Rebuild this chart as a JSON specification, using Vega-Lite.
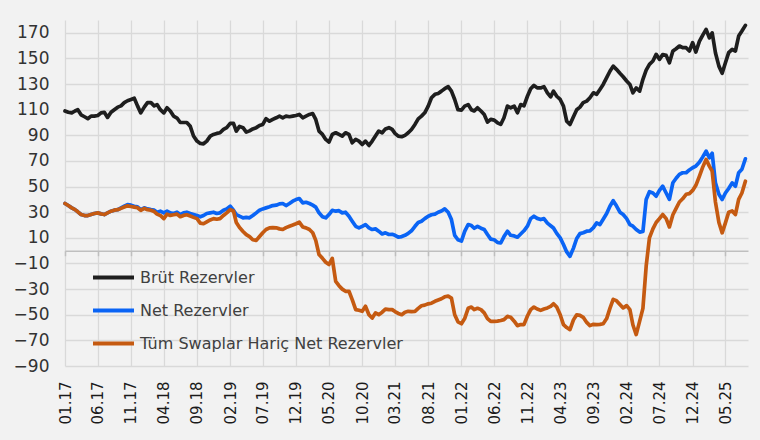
{
"$schema": "https://vega.github.io/schema/vega-lite/v6.json",
"width": 683, "height": 346,
"autosize": {"type": "none"},
"padding": {"left": 65, "top": 20, "right": 12, "bottom": 74},
"background": "#f2f2f2",
"config": {"view": {"stroke": null}, "font": "DejaVu Sans"},
"data": {"values": [
{"d":"2017-01-01","b":109,"n":36.8,"t":36.8},
{"d":"2017-01-16","b":108,"n":35.2,"t":35.2},
{"d":"2017-02-01","b":107.5,"n":33.4,"t":33.4},
{"d":"2017-02-16","b":109,"n":32,"t":32},
{"d":"2017-03-01","b":110,"n":30.3,"t":30.3},
{"d":"2017-03-16","b":106,"n":28.2,"t":28.2},
{"d":"2017-04-01","b":104.5,"n":27.4,"t":27.4},
{"d":"2017-04-16","b":103,"n":27.4,"t":27.4},
{"d":"2017-05-01","b":105,"n":28.2,"t":28.2},
{"d":"2017-05-16","b":105,"n":29,"t":29},
{"d":"2017-06-01","b":105.5,"n":29.5,"t":29.5},
{"d":"2017-06-16","b":107.5,"n":28.7,"t":28.7},
{"d":"2017-07-01","b":108,"n":28.2,"t":28.2},
{"d":"2017-07-16","b":104,"n":29.5,"t":29.5},
{"d":"2017-08-01","b":108,"n":30.8,"t":30.8},
{"d":"2017-08-16","b":110,"n":31.6,"t":31.6},
{"d":"2017-09-01","b":112,"n":32,"t":32},
{"d":"2017-09-16","b":113,"n":33.4,"t":33},
{"d":"2017-10-01","b":115.5,"n":34.7,"t":34},
{"d":"2017-10-16","b":117,"n":36,"t":35},
{"d":"2017-11-01","b":118,"n":35.5,"t":34.5},
{"d":"2017-11-16","b":119,"n":34.7,"t":34},
{"d":"2017-12-01","b":113,"n":34.2,"t":33.5},
{"d":"2017-12-16","b":107.5,"n":32,"t":31.5},
{"d":"2018-01-01","b":112,"n":33.4,"t":33},
{"d":"2018-01-16","b":115.5,"n":32.6,"t":32},
{"d":"2018-02-01","b":115.5,"n":32,"t":31.5},
{"d":"2018-02-16","b":113,"n":31.6,"t":30.5},
{"d":"2018-03-01","b":114,"n":30,"t":28.5},
{"d":"2018-03-16","b":110,"n":30.8,"t":27.5},
{"d":"2018-04-01","b":107.5,"n":29.5,"t":25},
{"d":"2018-04-16","b":111.5,"n":30.8,"t":28.5},
{"d":"2018-05-01","b":109,"n":29.5,"t":27.5},
{"d":"2018-05-16","b":105,"n":29,"t":28},
{"d":"2018-06-01","b":103.5,"n":30,"t":28.5},
{"d":"2018-06-16","b":100,"n":28.2,"t":26.5},
{"d":"2018-07-01","b":100,"n":29.5,"t":27.5},
{"d":"2018-07-16","b":100,"n":30,"t":28},
{"d":"2018-08-01","b":97,"n":29,"t":27},
{"d":"2018-08-16","b":89.5,"n":28.2,"t":26},
{"d":"2018-09-01","b":85.5,"n":27.4,"t":25},
{"d":"2018-09-16","b":83.7,"n":26.4,"t":21.5},
{"d":"2018-10-01","b":83.4,"n":27.4,"t":21},
{"d":"2018-10-16","b":85.5,"n":29,"t":22.5},
{"d":"2018-11-01","b":89.4,"n":29.5,"t":24},
{"d":"2018-11-16","b":90.7,"n":30,"t":25},
{"d":"2018-12-01","b":91.5,"n":29,"t":24.5},
{"d":"2018-12-16","b":92,"n":29.5,"t":25},
{"d":"2019-01-01","b":94.6,"n":31.5,"t":27.5},
{"d":"2019-01-16","b":96,"n":32.6,"t":29.5},
{"d":"2019-02-01","b":99.3,"n":34.7,"t":32},
{"d":"2019-02-16","b":99.3,"n":31.6,"t":31},
{"d":"2019-03-01","b":93.3,"n":28.2,"t":22},
{"d":"2019-03-16","b":97,"n":26.9,"t":18},
{"d":"2019-04-01","b":96,"n":25.6,"t":15},
{"d":"2019-04-16","b":92.5,"n":26,"t":12.5},
{"d":"2019-05-01","b":93.5,"n":25.6,"t":11},
{"d":"2019-05-16","b":95,"n":27.4,"t":8.5},
{"d":"2019-06-01","b":96,"n":29.5,"t":8},
{"d":"2019-06-16","b":97.7,"n":31.6,"t":11},
{"d":"2019-07-01","b":98.5,"n":32.6,"t":14},
{"d":"2019-07-16","b":103,"n":33.4,"t":16.5},
{"d":"2019-08-01","b":101,"n":34.2,"t":17.8},
{"d":"2019-08-16","b":102.4,"n":35.2,"t":18},
{"d":"2019-09-01","b":103.7,"n":35.5,"t":17.8},
{"d":"2019-09-16","b":105,"n":36.5,"t":17},
{"d":"2019-10-01","b":103.7,"n":36.8,"t":16.5},
{"d":"2019-10-16","b":105,"n":35.2,"t":18},
{"d":"2019-11-01","b":104.5,"n":36.8,"t":19.1},
{"d":"2019-11-16","b":105,"n":38.6,"t":20},
{"d":"2019-12-01","b":105.5,"n":39.9,"t":21},
{"d":"2019-12-16","b":106.3,"n":40.7,"t":22.2},
{"d":"2020-01-01","b":103.7,"n":37.3,"t":18.5},
{"d":"2020-01-16","b":105,"n":37.8,"t":17.8},
{"d":"2020-02-01","b":106.3,"n":36.8,"t":16.5},
{"d":"2020-02-16","b":107,"n":35.5,"t":14},
{"d":"2020-03-01","b":102.4,"n":34,"t":8},
{"d":"2020-03-16","b":93.3,"n":29.5,"t":-3},
{"d":"2020-04-01","b":90.7,"n":26.5,"t":-6},
{"d":"2020-04-16","b":86.8,"n":25.6,"t":-9},
{"d":"2020-05-01","b":84.7,"n":28.2,"t":-10.8},
{"d":"2020-05-16","b":90.7,"n":31.5,"t":-6},
{"d":"2020-06-01","b":92,"n":30.8,"t":-24},
{"d":"2020-06-16","b":90.7,"n":31.2,"t":-27.3},
{"d":"2020-07-01","b":89.4,"n":29.5,"t":-30},
{"d":"2020-07-16","b":92,"n":30,"t":-31.7},
{"d":"2020-08-01","b":90.7,"n":26.9,"t":-31.7},
{"d":"2020-08-16","b":84.2,"n":23,"t":-38.2},
{"d":"2020-09-01","b":86.8,"n":19,"t":-46},
{"d":"2020-09-16","b":85.5,"n":17.8,"t":-46.5},
{"d":"2020-10-01","b":82.9,"n":19,"t":-47.3},
{"d":"2020-10-16","b":85.5,"n":20.4,"t":-43.4},
{"d":"2020-11-01","b":82.1,"n":17.8,"t":-50},
{"d":"2020-11-16","b":85.5,"n":16.5,"t":-52.6},
{"d":"2020-12-01","b":89.4,"n":17,"t":-48.6},
{"d":"2020-12-16","b":93.3,"n":15.2,"t":-50},
{"d":"2021-01-01","b":92,"n":13,"t":-48},
{"d":"2021-01-16","b":95,"n":13.9,"t":-45.6},
{"d":"2021-02-01","b":96,"n":12.6,"t":-46},
{"d":"2021-02-16","b":94.6,"n":12.8,"t":-46},
{"d":"2021-03-01","b":91.5,"n":12,"t":-47.5},
{"d":"2021-03-16","b":89.4,"n":10.5,"t":-49},
{"d":"2021-04-01","b":88.9,"n":11,"t":-50},
{"d":"2021-04-16","b":90,"n":12,"t":-48},
{"d":"2021-05-01","b":92,"n":13.5,"t":-47.3},
{"d":"2021-05-16","b":94.6,"n":15.5,"t":-47.5},
{"d":"2021-06-01","b":98.5,"n":19,"t":-47.3},
{"d":"2021-06-16","b":102.9,"n":22,"t":-45},
{"d":"2021-07-01","b":105,"n":23,"t":-43},
{"d":"2021-07-16","b":107.6,"n":25,"t":-42.5},
{"d":"2021-08-01","b":112.8,"n":26.9,"t":-41.5},
{"d":"2021-08-16","b":119.3,"n":28,"t":-41},
{"d":"2021-09-01","b":122,"n":28.5,"t":-39.5},
{"d":"2021-09-16","b":122.7,"n":30,"t":-38.5},
{"d":"2021-10-01","b":124.5,"n":31,"t":-37.5},
{"d":"2021-10-16","b":126.4,"n":32.6,"t":-36},
{"d":"2021-11-01","b":128,"n":30,"t":-35.5},
{"d":"2021-11-16","b":124.5,"n":24.3,"t":-37},
{"d":"2021-12-01","b":118,"n":12,"t":-50},
{"d":"2021-12-16","b":110,"n":8.5,"t":-55.5},
{"d":"2022-01-01","b":109.7,"n":7.5,"t":-57},
{"d":"2022-01-16","b":112.8,"n":15,"t":-53},
{"d":"2022-02-01","b":114,"n":20.4,"t":-45},
{"d":"2022-02-16","b":110,"n":19.6,"t":-44},
{"d":"2022-03-01","b":109,"n":17.5,"t":-46},
{"d":"2022-03-16","b":111.5,"n":19,"t":-45},
{"d":"2022-04-01","b":109,"n":17.5,"t":-46},
{"d":"2022-04-16","b":106.3,"n":16.5,"t":-48.5},
{"d":"2022-05-01","b":100.3,"n":12.6,"t":-53},
{"d":"2022-05-16","b":102.4,"n":9,"t":-55.2},
{"d":"2022-06-01","b":101.9,"n":8.5,"t":-55.2},
{"d":"2022-06-16","b":99.8,"n":6.5,"t":-55},
{"d":"2022-07-01","b":98.5,"n":6,"t":-54.5},
{"d":"2022-07-16","b":103.7,"n":11,"t":-53.8},
{"d":"2022-08-01","b":112.8,"n":15.2,"t":-51.3},
{"d":"2022-08-16","b":111.5,"n":12,"t":-52},
{"d":"2022-09-01","b":112.8,"n":11.5,"t":-55},
{"d":"2022-09-16","b":107.6,"n":10.5,"t":-58.5},
{"d":"2022-10-01","b":114,"n":13,"t":-57.7},
{"d":"2022-10-16","b":113,"n":15.5,"t":-57.7},
{"d":"2022-11-01","b":120.5,"n":19.1,"t":-51},
{"d":"2022-11-16","b":126.4,"n":25,"t":-46},
{"d":"2022-12-01","b":129,"n":26.9,"t":-44},
{"d":"2022-12-16","b":127,"n":25.2,"t":-45.5},
{"d":"2023-01-01","b":127,"n":24.3,"t":-46.6},
{"d":"2023-01-16","b":128,"n":25,"t":-45.5},
{"d":"2023-02-01","b":123.2,"n":21.5,"t":-44.7},
{"d":"2023-02-16","b":120,"n":19.5,"t":-43.5},
{"d":"2023-03-01","b":124.5,"n":17.7,"t":-41.4},
{"d":"2023-03-16","b":120.5,"n":13.5,"t":-44},
{"d":"2023-04-01","b":118,"n":10,"t":-50},
{"d":"2023-04-16","b":112.8,"n":4.8,"t":-57.7},
{"d":"2023-05-01","b":101,"n":-1,"t":-60},
{"d":"2023-05-16","b":98.5,"n":-4.4,"t":-61.6},
{"d":"2023-06-01","b":104.5,"n":2,"t":-54},
{"d":"2023-06-16","b":110,"n":9.5,"t":-50},
{"d":"2023-07-01","b":112,"n":13.3,"t":-50.5},
{"d":"2023-07-16","b":115.5,"n":14,"t":-52},
{"d":"2023-08-01","b":116.7,"n":15.2,"t":-56},
{"d":"2023-08-16","b":119.3,"n":15.5,"t":-58.5},
{"d":"2023-09-01","b":123.2,"n":18,"t":-57.5},
{"d":"2023-09-16","b":122,"n":21.7,"t":-57.7},
{"d":"2023-10-01","b":125.8,"n":20.4,"t":-57.5},
{"d":"2023-10-16","b":129.7,"n":24.5,"t":-57},
{"d":"2023-11-01","b":135,"n":29,"t":-53},
{"d":"2023-11-16","b":140,"n":34.7,"t":-45},
{"d":"2023-12-01","b":144,"n":39,"t":-38},
{"d":"2023-12-16","b":141.5,"n":35,"t":-39},
{"d":"2024-01-01","b":138.4,"n":30,"t":-42},
{"d":"2024-01-16","b":135.7,"n":28.2,"t":-44.7},
{"d":"2024-02-01","b":132.4,"n":25,"t":-42.9},
{"d":"2024-02-16","b":129.7,"n":20.4,"t":-46},
{"d":"2024-03-01","b":123.2,"n":19.1,"t":-58},
{"d":"2024-03-16","b":127,"n":16.5,"t":-65.5},
{"d":"2024-04-01","b":124.5,"n":14.5,"t":-55},
{"d":"2024-04-16","b":133.7,"n":15,"t":-45},
{"d":"2024-05-01","b":140.9,"n":40,"t":-12},
{"d":"2024-05-16","b":145.4,"n":46,"t":10},
{"d":"2024-06-01","b":148,"n":45,"t":17},
{"d":"2024-06-16","b":153.2,"n":42.5,"t":22},
{"d":"2024-07-01","b":149.3,"n":47,"t":25},
{"d":"2024-07-16","b":153,"n":50.3,"t":28.2},
{"d":"2024-08-01","b":152.4,"n":45,"t":25},
{"d":"2024-08-16","b":146.6,"n":40,"t":18.5},
{"d":"2024-09-01","b":155.8,"n":53,"t":28},
{"d":"2024-09-16","b":157.6,"n":56.5,"t":33},
{"d":"2024-10-01","b":159.7,"n":59.5,"t":38},
{"d":"2024-10-16","b":158.4,"n":60.8,"t":40.5},
{"d":"2024-11-01","b":158.4,"n":60.8,"t":44},
{"d":"2024-11-16","b":155.8,"n":63,"t":44.5},
{"d":"2024-12-01","b":162.3,"n":64.7,"t":47},
{"d":"2024-12-16","b":155,"n":66,"t":51},
{"d":"2025-01-01","b":163.3,"n":69,"t":58},
{"d":"2025-01-16","b":168,"n":73,"t":65},
{"d":"2025-02-01","b":172.7,"n":77.7,"t":71.2},
{"d":"2025-02-16","b":166,"n":72.5,"t":66},
{"d":"2025-03-01","b":170,"n":76,"t":62},
{"d":"2025-03-16","b":154.5,"n":52.9,"t":38},
{"d":"2025-04-01","b":144,"n":44,"t":22},
{"d":"2025-04-16","b":138.4,"n":39.9,"t":13.9},
{"d":"2025-05-01","b":146.6,"n":45,"t":21.7},
{"d":"2025-05-16","b":154.5,"n":48.5,"t":30},
{"d":"2025-06-01","b":157,"n":52.9,"t":31},
{"d":"2025-06-16","b":155.8,"n":50.3,"t":28.2},
{"d":"2025-07-01","b":167.5,"n":60.8,"t":40},
{"d":"2025-07-16","b":171.4,"n":63.5,"t":45},
{"d":"2025-08-01","b":175.8,"n":71.7,"t":54.2}
]},
"transform": [{"fold": ["b", "n", "t"], "as": ["s", "v"]}],
"layer": [
{
"mark": {"type": "line", "strokeWidth": 3.7, "strokeJoin": "round", "strokeCap": "round"},
"encoding": {
"x": {"field": "d", "type": "temporal",
"scale": {"type": "utc", "domain": [{"year":2017,"month":1,"date":1,"utc":true}, {"year":2025,"month":8,"date":13,"utc":true}]},
"axis": {"orient": "bottom", "title": null, "labelExpr": "utcFormat(datum.value, '%m.%y')", "labelAngle": -90, "labelAlign": "right", "labelBaseline": "middle", "labelPadding": 15, "labelFontSize": 15, "labelColor": "#1a1a1a", "labelOverlap": false, "labelFlush": false, "domain": false, "ticks": false, "grid": true, "gridColor": "#d9d9d9", "gridWidth": 1.3,
"values": [
{"year":2017,"month":1,"date":1,"utc":true},{"year":2017,"month":6,"date":1,"utc":true},{"year":2017,"month":11,"date":1,"utc":true},
{"year":2018,"month":4,"date":1,"utc":true},{"year":2018,"month":9,"date":1,"utc":true},{"year":2019,"month":2,"date":1,"utc":true},
{"year":2019,"month":7,"date":1,"utc":true},{"year":2019,"month":12,"date":1,"utc":true},{"year":2020,"month":5,"date":1,"utc":true},
{"year":2020,"month":10,"date":1,"utc":true},{"year":2021,"month":3,"date":1,"utc":true},{"year":2021,"month":8,"date":1,"utc":true},
{"year":2022,"month":1,"date":1,"utc":true},{"year":2022,"month":6,"date":1,"utc":true},{"year":2022,"month":11,"date":1,"utc":true},
{"year":2023,"month":4,"date":1,"utc":true},{"year":2023,"month":9,"date":1,"utc":true},{"year":2024,"month":2,"date":1,"utc":true},
{"year":2024,"month":7,"date":1,"utc":true},{"year":2024,"month":12,"date":1,"utc":true},{"year":2025,"month":5,"date":1,"utc":true}]}},
"y": {"field": "v", "type": "quantitative",
"scale": {"domain": [-90, 180], "nice": false, "zero": false},
"axis": {"title": null, "values": [-90, -70, -50, -30, -10, 10, 30, 50, 70, 90, 110, 130, 150, 170], "labelOverlap": false, "domain": false, "ticks": false, "labelPadding": 16, "labelFontSize": 17, "labelColor": "#333333", "grid": true, "gridColor": "#d9d9d9", "gridWidth": 1.3}},
"color": {"field": "s", "type": "nominal",
"scale": {"domain": ["b", "n", "t"], "range": ["#1e1e1e", "#0a64f5", "#c55a11"]},
"legend": {"orient": "none", "legendX": 26, "legendY": 235, "title": null, "padding": 0, "symbolType": "stroke", "symbolSize": 1681, "symbolStrokeWidth": 4, "labelFontSize": 16, "labelColor": "#404040", "labelOffset": 4, "labelLimit": 400, "rowPadding": 2,
"labelExpr": "datum.value == 'b' ? 'Brüt Rezervler' : datum.value == 'n' ? 'Net Rezervler' : 'Tüm Swaplar Hariç Net Rezervler'"}}
}
},
{
"mark": {"type": "line", "opacity": 0},
"encoding": {
"x": {"field": "d", "type": "temporal",
"axis": {"orient": "top", "offset": -230.7, "title": null, "labels": false, "grid": false, "domain": true, "domainColor": "#bfbfbf", "domainWidth": 1.5, "ticks": true, "tickColor": "#bfbfbf", "tickWidth": 1.5, "tickSize": -5,
"values": [
{"year":2017,"month":1,"date":1,"utc":true},{"year":2017,"month":6,"date":1,"utc":true},{"year":2017,"month":11,"date":1,"utc":true},
{"year":2018,"month":4,"date":1,"utc":true},{"year":2018,"month":9,"date":1,"utc":true},{"year":2019,"month":2,"date":1,"utc":true},
{"year":2019,"month":7,"date":1,"utc":true},{"year":2019,"month":12,"date":1,"utc":true},{"year":2020,"month":5,"date":1,"utc":true},
{"year":2020,"month":10,"date":1,"utc":true},{"year":2021,"month":3,"date":1,"utc":true},{"year":2021,"month":8,"date":1,"utc":true},
{"year":2022,"month":1,"date":1,"utc":true},{"year":2022,"month":6,"date":1,"utc":true},{"year":2022,"month":11,"date":1,"utc":true},
{"year":2023,"month":4,"date":1,"utc":true},{"year":2023,"month":9,"date":1,"utc":true},{"year":2024,"month":2,"date":1,"utc":true},
{"year":2024,"month":7,"date":1,"utc":true},{"year":2024,"month":12,"date":1,"utc":true},{"year":2025,"month":5,"date":1,"utc":true}]}},
"y": {"field": "v", "type": "quantitative", "axis": {"title": null, "values": [-90, -70, -50, -30, -10, 10, 30, 50, 70, 90, 110, 130, 150, 170], "labelOverlap": false, "domain": false, "ticks": false, "labelPadding": 16, "labelFontSize": 17, "labelColor": "#333333", "grid": true, "gridColor": "#d9d9d9", "gridWidth": 1.3}}
}
}
],
"resolve": {"axis": {"x": "independent"}}
}
